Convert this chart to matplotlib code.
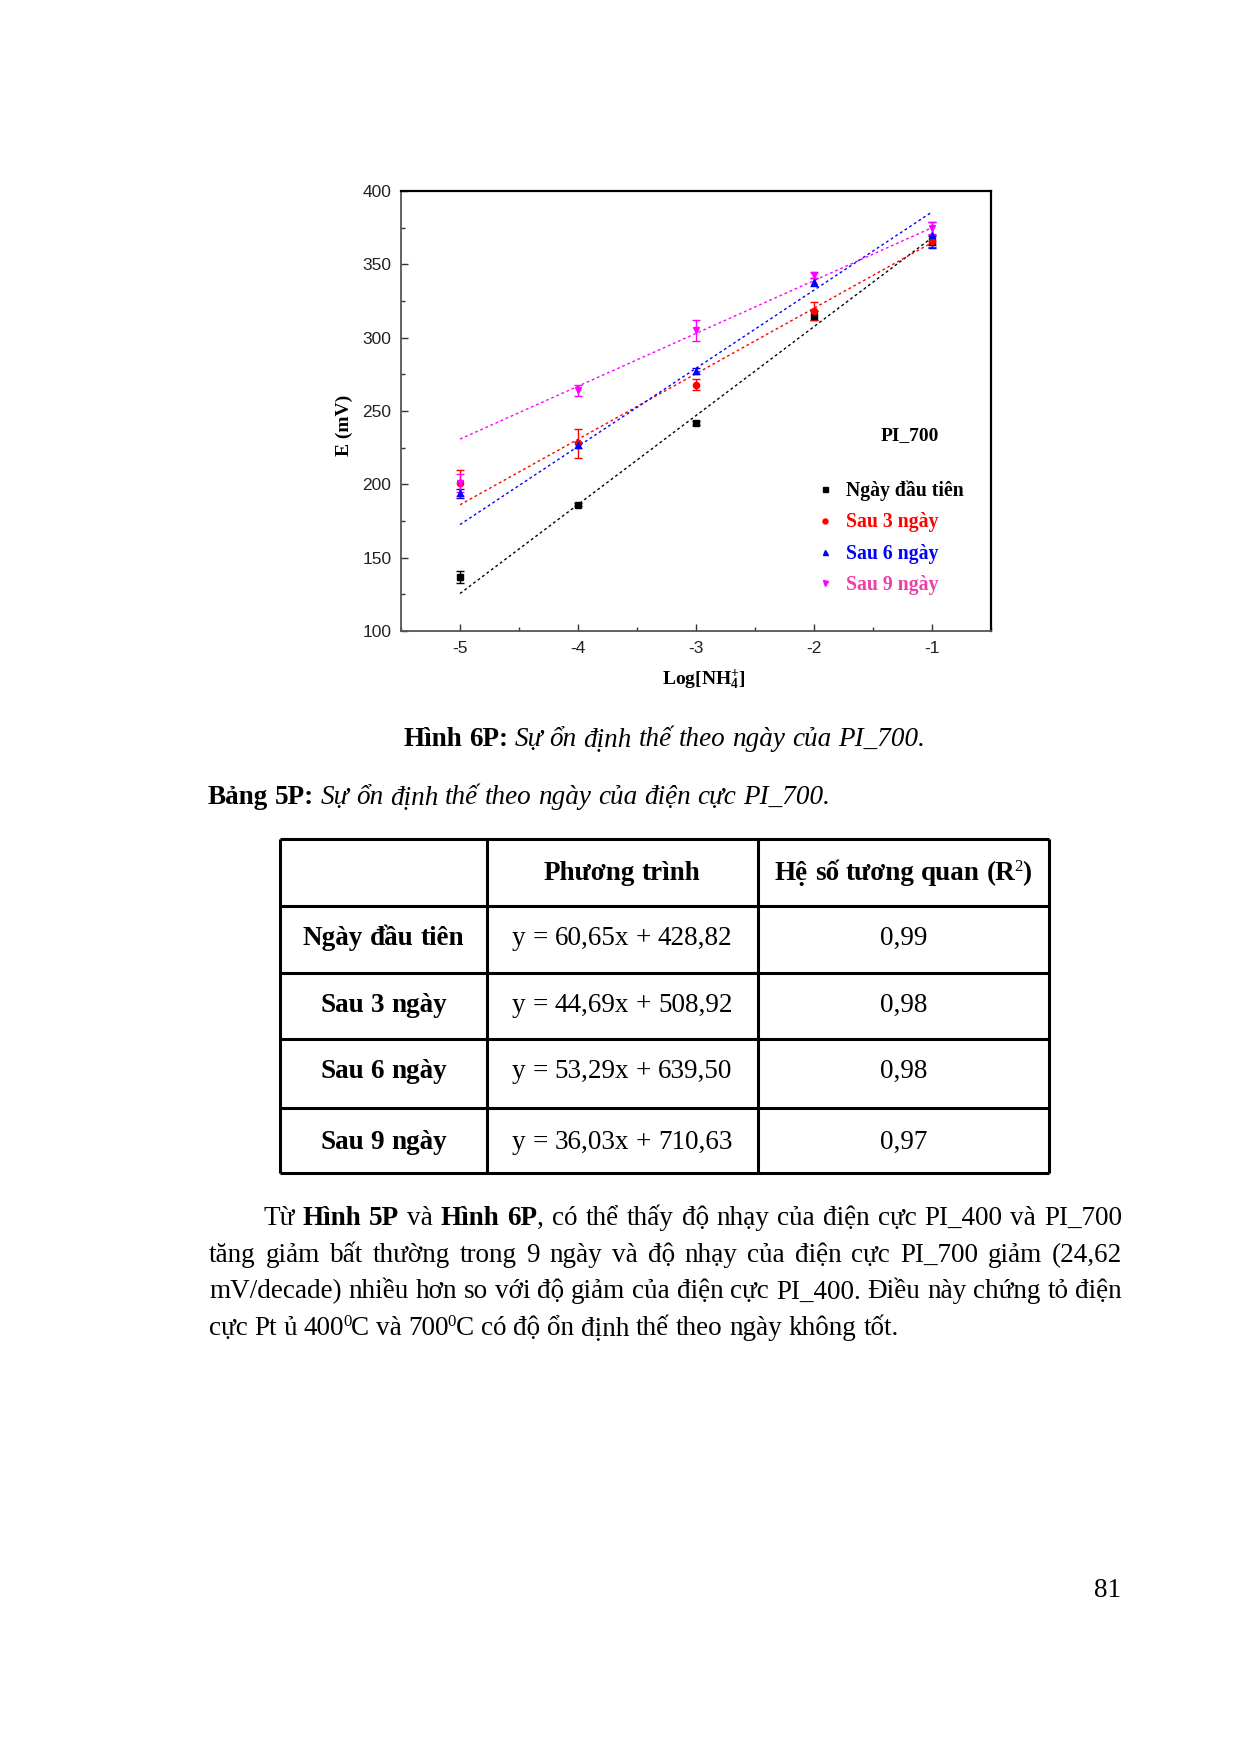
import numpy as np
import matplotlib
matplotlib.use('Agg')
import matplotlib.pyplot as plt
from matplotlib.ticker import MultipleLocator

plt.rcParams['font.family'] = ['Liberation Serif', 'DejaVu Serif']
plt.rcParams['mathtext.fontset'] = 'custom'
plt.rcParams['mathtext.rm'] = 'Liberation Serif'
plt.rcParams['mathtext.it'] = 'Liberation Serif:italic'
plt.rcParams['mathtext.bf'] = 'Liberation Serif:bold'
plt.rcParams['axes.unicode_minus'] = False
plt.rcParams['xtick.direction'] = 'in'
plt.rcParams['ytick.direction'] = 'in'

# ---- số liệu ----
log_nh4 = [-5, -4, -3, -2, -1]
series_names = ['Ngày đầu tiên', 'Sau 3 ngày', 'Sau 6 ngày', 'Sau 9 ngày']
e_day0 = [137, 186, 242, 315, 366]
err_day0 = [4, 1, 1.5, 3, 3]
e_day3 = [201, 228, 268, 318, 366]
err_day3 = [9, 10, 4, 6, 4]
e_day6 = [194, 227, 277, 338, 370]
err_day6 = [3, 2, 2, 3, 9]
e_day9 = [201, 264, 305, 343, 375]
err_day9 = [6, 4, 7, 2, 4]
fit_slope = [60.65, 44.69, 53.29, 36.03]
fit_intercept = [428.82, 409.5, 439.0, 411.0]   # đường fit trên đồ thị

# bảng 5P
table_slope = [60.65, 44.69, 53.29, 36.03]
table_intercept = [428.82, 508.92, 639.50, 710.63]
table_r2 = [0.99, 0.98, 0.98, 0.97]

e_vals = [e_day0, e_day3, e_day6, e_day9]
e_errs = [err_day0, err_day3, err_day6, err_day9]
colors = ['black', 'red', 'blue', 'magenta']
text_colors = ['black', 'red', 'blue', '#ee3fa8']
markers = ['s', 'o', '^', 'v']

W, H = 1240, 1754
fig = plt.figure(figsize=(W / 100, H / 100), dpi=100)
page = fig.add_axes([0, 0, 1, 1])
page.set_xlim(0, W)
page.set_ylim(H, 0)
page.axis('off')
R = fig.canvas.get_renderer()

FS = 19.5
STY = {'R': {}, 'B': {'fontweight': 'bold'}, 'I': {'fontstyle': 'italic'},
       'S': {'fontsize': FS * 0.62}}


def kw_of(st):
    k = {'fontsize': FS}
    k.update(STY[st])
    return k


def text_w(s, st):
    t = page.text(0, 0, s, **kw_of(st))
    w = t.get_window_extent(R).width
    t.remove()
    return w


SPACE = text_w('a a', 'R') - text_w('aa', 'R')


def split_words(runs):
    words, cur = [], []
    for s, st in runs:
        for i, p in enumerate(s.split(' ')):
            if i > 0 and cur:
                words.append(cur)
                cur = []
            if p:
                cur.append((p, st))
    if cur:
        words.append(cur)
    return words


def draw_word(x, y, segs):
    for s, st in segs:
        dy = 0
        if st == 'S':
            dy = -9
            x -= 1.5
        t = page.text(x, y + dy, s, ha='left', va='baseline', **kw_of(st))
        x += t.get_window_extent(R).width
    return x


def word_w(segs):
    return sum(text_w(s, st) - (1.5 if st == 'S' else 0) for s, st in segs)


def draw_line(x0, y, runs, x1=None, center=None):
    words = split_words(runs)
    ws = [word_w(w) for w in words]
    gap = SPACE
    if x1 is not None and len(words) > 1:
        gap = (x1 - x0 - sum(ws)) / (len(words) - 1)
    if center is not None:
        x0 = center - (sum(ws) + gap * (len(words) - 1)) / 2
    x = x0
    for w, wd in zip(words, ws):
        draw_word(x, y, w)
        x += wd + gap


# ---- đồ thị ----
ax = fig.add_axes([401 / W, 1 - 631 / H, 590 / W, 440 / H])
handles = []
xx = np.array([log_nh4[0], log_nh4[-1]], dtype=float)
for i in range(4):
    c = ax.errorbar(log_nh4, e_vals[i], yerr=e_errs[i], fmt=markers[i], color=colors[i],
                    ms=4.5, capsize=3, elinewidth=1, capthick=1, zorder=3)
    handles.append(c[0])
    ax.plot(xx, fit_slope[i] * xx + fit_intercept[i], ls=(0, (2, 2)), lw=1,
            color=colors[i], zorder=2)

ax.set_xlim(-5.5, -0.5)
ax.set_ylim(100, 400)
ax.xaxis.set_major_locator(MultipleLocator(1))
ax.xaxis.set_minor_locator(MultipleLocator(0.5))
ax.yaxis.set_major_locator(MultipleLocator(50))
ax.yaxis.set_minor_locator(MultipleLocator(25))
ax.tick_params(which='major', length=5, width=1, color='#333')
ax.tick_params(which='minor', length=3, width=1, color='#333')
ax.tick_params(axis='y', pad=7)
ax.tick_params(axis='x', pad=7)
for lab in ax.get_xticklabels() + ax.get_yticklabels():
    lab.set_family('Liberation Sans')
    lab.set_fontsize(12.5)
    lab.set_color('#222')
for s in ['top', 'right']:
    ax.spines[s].set_linewidth(1.6)
    ax.spines[s].set_color('black')
for s in ['left', 'bottom']:
    ax.spines[s].set_linewidth(1.3)
    ax.spines[s].set_color('#555')

ax.set_ylabel('E (mV)', fontsize=14, fontweight='bold')
ax.yaxis.set_label_coords(-0.082, 0.468)
ax.set_xlabel(r'Log[NH$_{\mathbf{4}}^{\mathbf{+}}$]', fontsize=14, fontweight='bold')
ax.xaxis.set_label_coords(0.514, -0.082)

ax.text(0.863, 0.445, 'PI_700', transform=ax.transAxes, ha='center', va='center',
        fontsize=14, fontweight='bold')
leg = ax.legend(handles, series_names, loc='upper left', bbox_to_anchor=(0.708, 0.342),
                frameon=False, handlelength=0.6, handletextpad=0.8, labelspacing=0.58,
                borderpad=0, borderaxespad=0, markerscale=0.8,
                prop={'family': 'Liberation Serif', 'weight': 'bold', 'size': 14.2})
for t, c in zip(leg.get_texts(), text_colors):
    t.set_color(c)

# ---- chú thích ----
draw_line(0, 746, [('Hình 6P:', 'B'), (' Sự ổn định thế theo ngày của PI_700.', 'I')], center=664)
draw_line(208, 804, [('Bảng 5P:', 'B'), (' Sự ổn định thế theo ngày của điện cực PI_700.', 'I')])

# ---- bảng ----
col_x = [280, 486.5, 758, 1048.5]
row_y = [839, 906, 972.5, 1039, 1108, 1173]
page.hlines(row_y, col_x[0], col_x[-1], color='black', lw=2.2)
page.vlines(col_x, row_y[0], row_y[-1], color='black', lw=2.2)
cx = [(col_x[j] + col_x[j + 1]) / 2 for j in range(3)]
base_off = 41
draw_line(0, row_y[0] + base_off, [('Phương trình', 'B')], center=cx[1])
draw_line(0, row_y[0] + base_off, [('Hệ số tương quan (R', 'B'), ('2', 'S'), (')', 'B')], center=cx[2])


def fmt(v):
    return f'{v:.2f}'.replace('.', ',')


for i in range(4):
    yb = row_y[i + 1] + base_off - 2 + (i == 3) * 2
    draw_line(0, yb, [(series_names[i], 'B')], center=cx[0])
    eq = f'y = {fmt(table_slope[i])}x + {fmt(table_intercept[i])}'
    draw_line(0, yb, [(eq, 'R')], center=cx[1])
    draw_line(0, yb, [(fmt(table_r2[i]), 'R')], center=cx[2])

# ---- đoạn văn ----
para = [
    (263, True, [('Từ ', 'R'), ('Hình 5P', 'B'), (' và ', 'R'), ('Hình 6P', 'B'),
                 (', có thể thấy độ nhạy của điện cực PI_400 và PI_700', 'R')]),
    (209, True, [('tăng giảm bất thường trong 9 ngày và độ nhạy của điện cực PI_700 giảm (24,62', 'R')]),
    (209, True, [('mV/decade) nhiều hơn so với độ giảm của điện cực PI_400. Điều này chứng tỏ điện', 'R')]),
    (209, False, [('cực Pt ủ 400', 'R'), ('0', 'S'), ('C và 700', 'R'), ('0', 'S'),
                  ('C có độ ổn định thế theo ngày không tốt.', 'R')]),
]
for k, (x0, just, runs) in enumerate(para):
    draw_line(x0, 1225 + 36.7 * k, runs, x1=1122 if just else None)

page.text(1121, 1597, '81', ha='right', va='baseline', fontsize=FS)

fig.savefig('out.png', dpi=100)
